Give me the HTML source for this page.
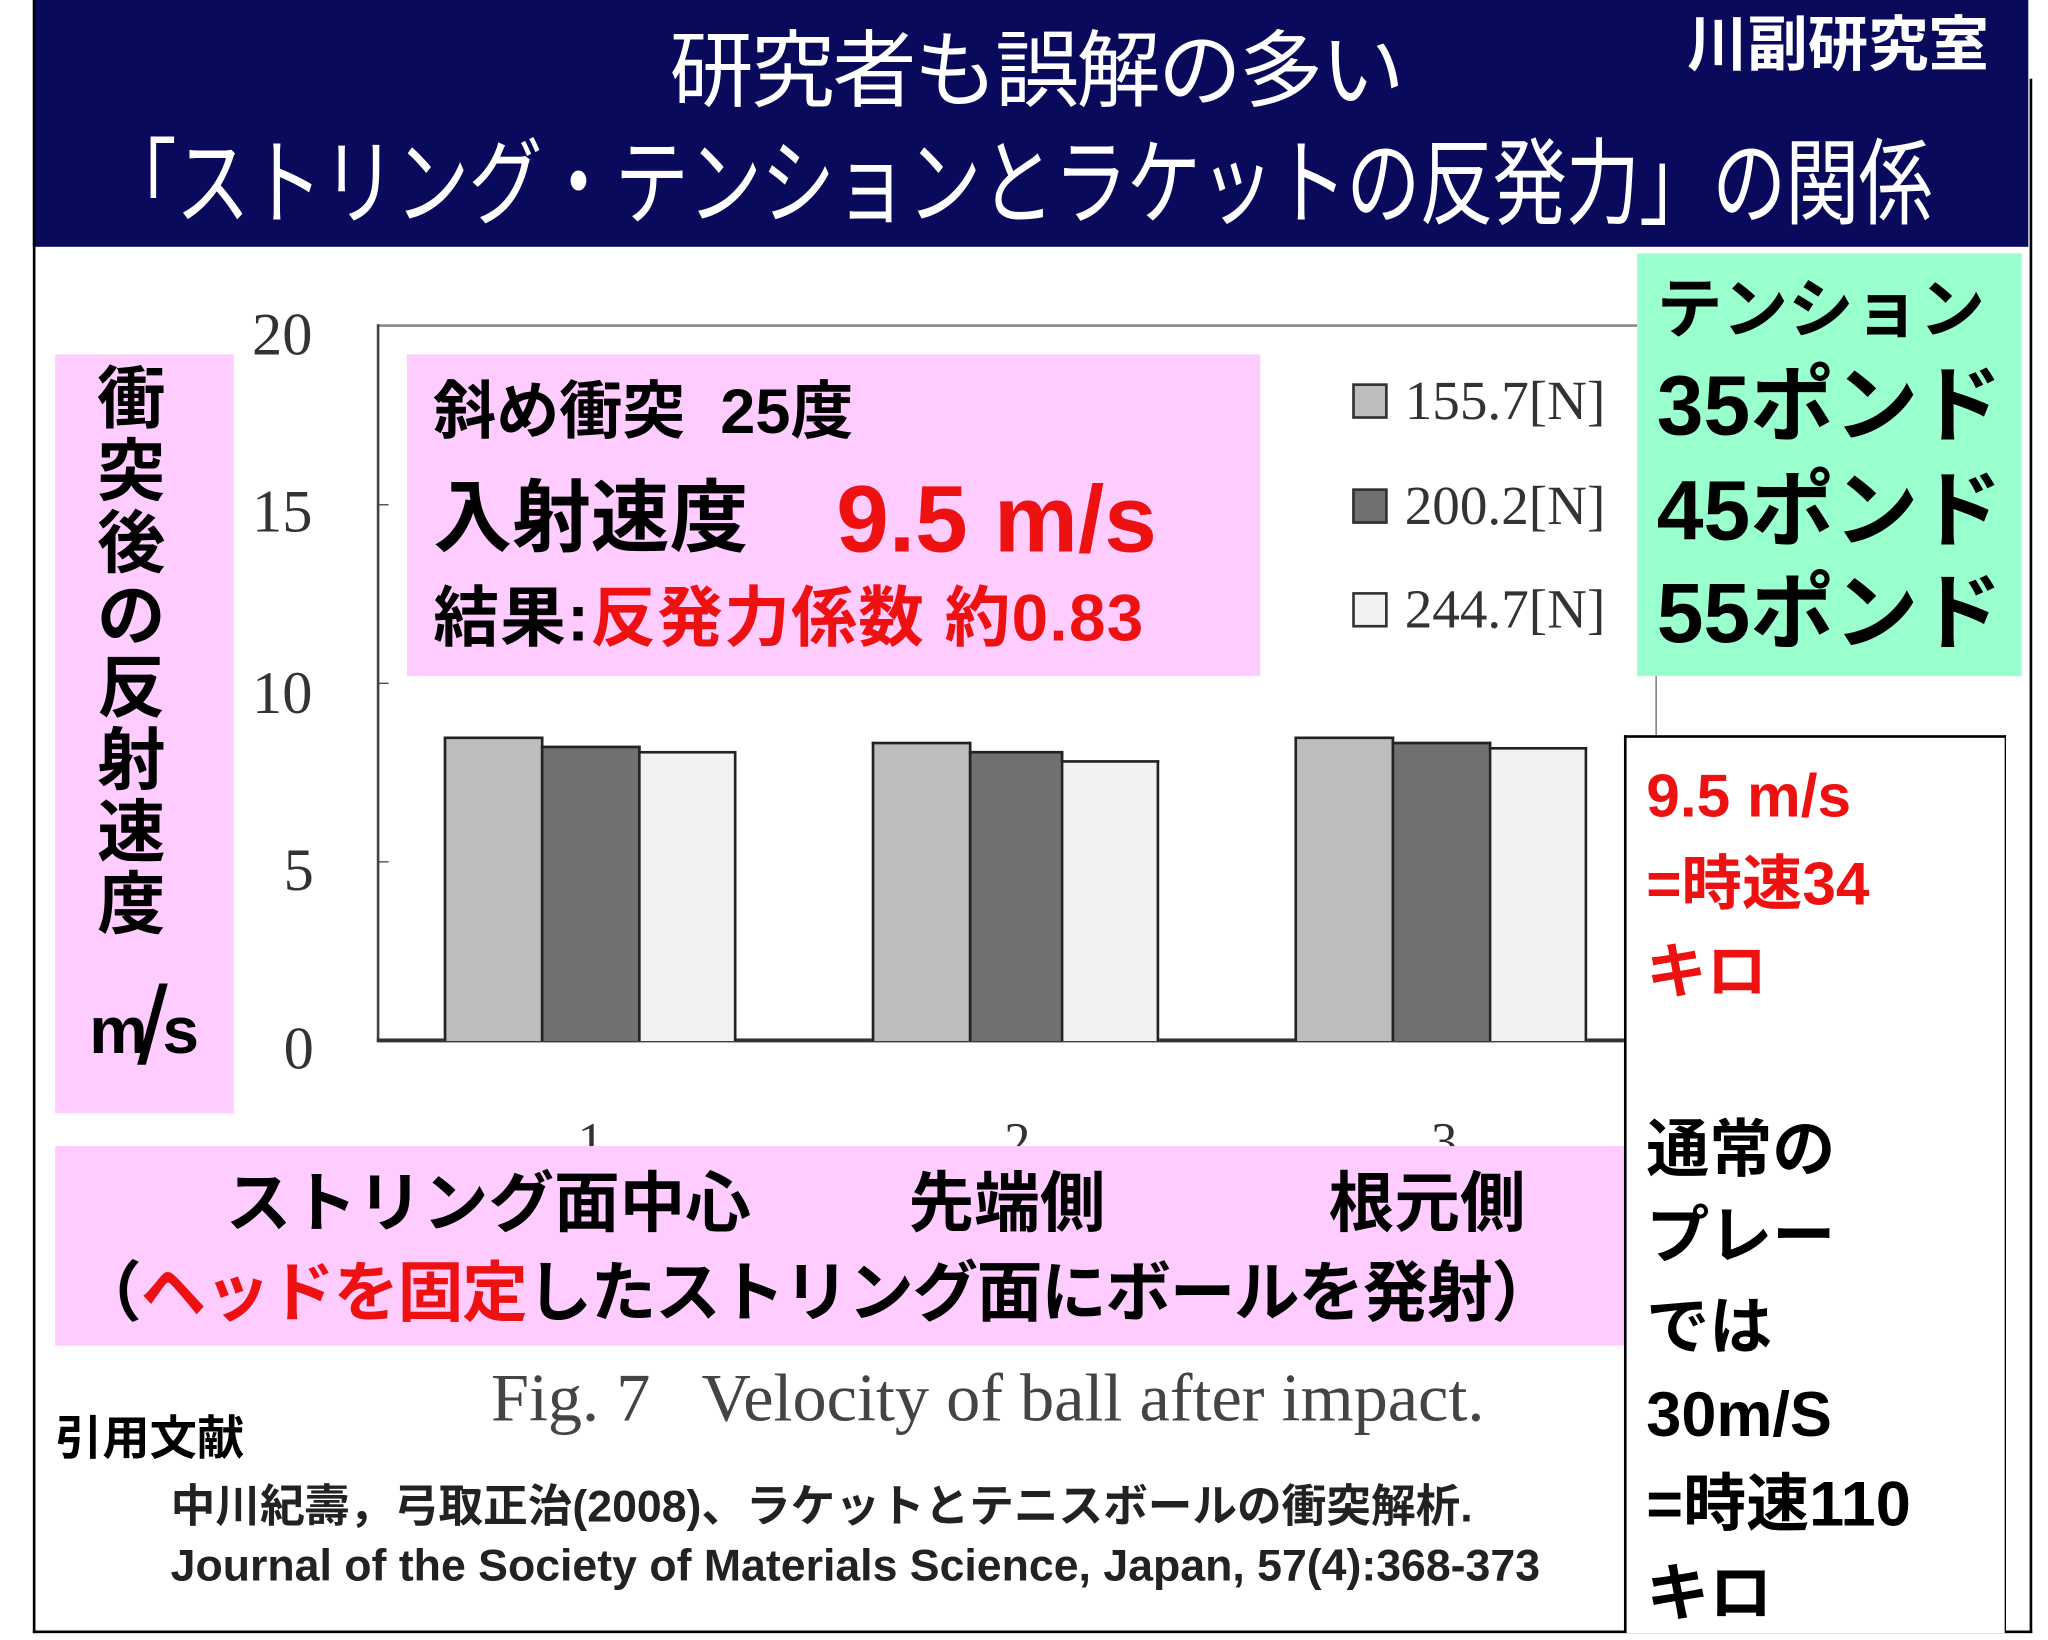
<!DOCTYPE html>
<html><head><meta charset="utf-8"><style>
html,body{margin:0;padding:0;background:#fff;}
body{width:2048px;height:1639px;overflow:hidden;position:relative;}
#s{position:absolute;left:0;top:0;width:1560px;height:1249px;transform:scale(1.31282);transform-origin:0 0;overflow:hidden;}
.a{position:absolute;white-space:nowrap;}
.j{font-family:"Liberation Sans","Noto Sans CJK JP",sans-serif;font-weight:bold;}
.t{font-family:"Liberation Sans","Noto Sans CJK JP",sans-serif;}
.sf{font-family:"Liberation Serif",serif;color:#333;}
.r{color:#ee1111;}
</style></head><body><div id="s">
<div class="a" style="left:25px;top:0;width:1520px;height:188px;background:#0a0a5c"></div>
<div class="a" style="left:25px;top:0;width:2px;height:1244px;background:#000"></div>
<div class="a" style="left:25px;top:1242px;width:1523px;height:2px;background:#000"></div>
<div class="a" style="left:1546px;top:60px;width:2px;height:1184px;background:#000"></div>
<div class="a t" style="left:510px;top:14px;font-size:64px;color:#fff;line-height:80px;letter-spacing:-2px">研究者も誤解の多い</div>
<div class="a t" style="left:78px;top:98px;font-size:72px;color:#fff;line-height:86px;transform:scaleX(0.785);transform-origin:0 0;letter-spacing:-1px">「ストリング・テンションとラケットの反発力」の関係</div>
<div class="a j" style="left:1285px;top:6px;font-size:46px;color:#fff;line-height:56px">川副研究室</div>

<div class="a" style="left:288px;top:247px;width:975px;height:2px;background:#888"></div>
<div class="a" style="left:287px;top:247px;width:2px;height:546px;background:#444"></div>
<div class="a" style="left:287px;top:791px;width:950px;height:3px;background:#333"></div>
<div class="a" style="left:288px;top:384px;width:8px;height:1px;background:#444"></div>
<div class="a" style="left:288px;top:520px;width:8px;height:1px;background:#444"></div>
<div class="a" style="left:288px;top:656px;width:8px;height:1px;background:#444"></div>
<div class="a" style="left:1261px;top:515px;width:1px;height:45px;background:#666"></div>
<div class="a sf" style="left:192px;top:230px;font-size:46px;line-height:50px">20</div>
<div class="a sf" style="left:192px;top:365px;font-size:46px;line-height:50px">15</div>
<div class="a sf" style="left:192px;top:503px;font-size:46px;line-height:50px">10</div>
<div class="a sf" style="left:216px;top:638px;font-size:46px;line-height:50px">5</div>
<div class="a sf" style="left:216px;top:774px;font-size:46px;line-height:50px">0</div>
<div class="a" style="left:338px;top:561px;width:72px;height:230px;background:#bdbdbd;border:2px solid #222;border-bottom:0"></div>
<div class="a" style="left:412px;top:568px;width:72px;height:223px;background:#707070;border:2px solid #222;border-bottom:0"></div>
<div class="a" style="left:486px;top:572px;width:71px;height:219px;background:#f2f2f2;border:2px solid #222;border-bottom:0"></div>
<div class="a" style="left:664px;top:565px;width:72px;height:226px;background:#bdbdbd;border:2px solid #222;border-bottom:0"></div>
<div class="a" style="left:738px;top:572px;width:68px;height:219px;background:#707070;border:2px solid #222;border-bottom:0"></div>
<div class="a" style="left:808px;top:579px;width:71px;height:212px;background:#f2f2f2;border:2px solid #222;border-bottom:0"></div>
<div class="a" style="left:986px;top:561px;width:72px;height:230px;background:#bdbdbd;border:2px solid #222;border-bottom:0"></div>
<div class="a" style="left:1060px;top:565px;width:72px;height:226px;background:#707070;border:2px solid #222;border-bottom:0"></div>
<div class="a" style="left:1134px;top:569px;width:71px;height:222px;background:#f2f2f2;border:2px solid #222;border-bottom:0"></div>
<div class="a" style="left:1030px;top:292px;width:23px;height:23px;background:#bdbdbd;border:2px solid #333"></div>
<div class="a" style="left:1030px;top:372px;width:23px;height:23px;background:#707070;border:2px solid #333"></div>
<div class="a" style="left:1030px;top:451px;width:23px;height:23px;background:#f2f2f2;border:2px solid #333"></div>
<div class="a sf" style="left:1070px;top:282px;font-size:42px;line-height:48px">155.7[N]</div>
<div class="a sf" style="left:1070px;top:362px;font-size:42px;line-height:48px">200.2[N]</div>
<div class="a sf" style="left:1070px;top:441px;font-size:42px;line-height:48px">244.7[N]</div>
<div class="a" style="left:310px;top:270px;width:650px;height:245px;background:#ffccff"></div>
<div class="a j" style="left:330px;top:287px;font-size:48px;line-height:56px">斜め衝突&nbsp;&nbsp;25度</div>
<div class="a j" style="left:330px;top:360px;font-size:60px;line-height:70px">入射速度</div>
<div class="a j r" style="left:637px;top:356px;font-size:72px;line-height:80px">9.5 m/s</div>
<div class="a j" style="left:330px;top:440px;font-size:50px;line-height:62px;letter-spacing:1px">結果:<span class="r">反発力係数 約0.83</span></div>
<div class="a" style="left:1247px;top:193px;width:293px;height:322px;background:#99ffcc"></div>
<div class="a j" style="left:1262px;top:206px;font-size:50px;line-height:60px">テンション</div>
<div class="a j" style="left:1262px;top:272px;font-size:64px;line-height:74px">35ポンド</div>
<div class="a j" style="left:1262px;top:352px;font-size:64px;line-height:74px">45ポンド</div>
<div class="a j" style="left:1262px;top:430px;font-size:64px;line-height:74px">55ポンド</div>
<div class="a" style="left:42px;top:270px;width:136px;height:578px;background:#ffccff"></div>
<div class="a j" style="left:70px;top:278px;font-size:52px;line-height:55px;width:60px;white-space:normal;text-align:center">衝突後の反射速度</div>
<div class="a j" style="left:68px;top:740px;font-size:50px;line-height:66px">m<span style="font-weight:normal;font-size:84px;position:relative;top:8px;margin-left:-8px;margin-right:-4px">/</span>s</div>
<div class="a sf" style="left:440px;top:850px;font-size:40px;line-height:40px">1</div>
<div class="a sf" style="left:765px;top:850px;font-size:40px;line-height:40px">2</div>
<div class="a sf" style="left:1090px;top:850px;font-size:40px;line-height:40px">3</div>
<div class="a" style="left:42px;top:873px;width:1195px;height:152px;background:#ffccff"></div>
<div class="a j" style="left:172px;top:886px;font-size:50px;line-height:62px">ストリング面中心</div>
<div class="a j" style="left:692px;top:886px;font-size:50px;line-height:62px">先端側</div>
<div class="a j" style="left:1012px;top:886px;font-size:50px;line-height:62px">根元側</div>
<div class="a j" style="left:58px;top:954px;font-size:50px;line-height:62px;letter-spacing:-1px">（<span class="r">ヘッドを固定</span>したストリング面にボールを発射）</div>
<div class="a j" style="left:130px;top:1172px;font-size:34px;line-height:42px;color:#222;width:1106px;overflow:hidden">Journal of the Society of Materials Science, Japan, 57(4):368-373</div>
<div class="a" style="left:1237px;top:560px;width:288px;height:682px;border:2px solid #000;border-bottom:0;border-right-width:1px;background:#fff"></div>
<div class="a j r" style="left:1254px;top:578px;font-size:46px;line-height:56px">9.5 m/s</div>
<div class="a j r" style="left:1254px;top:645px;font-size:46px;line-height:56px">=時速34</div>
<div class="a j r" style="left:1254px;top:712px;font-size:46px;line-height:56px">キロ</div>
<div class="a j" style="left:1254px;top:848px;font-size:48px;line-height:58px">通常の</div>
<div class="a j" style="left:1254px;top:914px;font-size:48px;line-height:58px">プレー</div>
<div class="a j" style="left:1254px;top:983px;font-size:48px;line-height:58px">では</div>
<div class="a j" style="left:1254px;top:1050px;font-size:48px;line-height:58px">30m/S</div>
<div class="a j" style="left:1254px;top:1118px;font-size:48px;line-height:58px">=時速110</div>
<div class="a j" style="left:1254px;top:1186px;font-size:48px;line-height:58px">キロ</div>
<div class="a sf" style="left:374px;top:1036px;font-size:52px;line-height:60px;color:#444">Fig. 7&nbsp;&nbsp;&nbsp;Velocity of ball after impact.</div>
<div class="a j" style="left:42px;top:1073px;font-size:36px;line-height:46px">引用文献</div>
<div class="a j" style="left:130px;top:1127px;font-size:34px;line-height:42px;color:#222">中川紀壽，弓取正治(2008)、ラケットとテニスボールの衝突解析.</div>
</div></body></html>
